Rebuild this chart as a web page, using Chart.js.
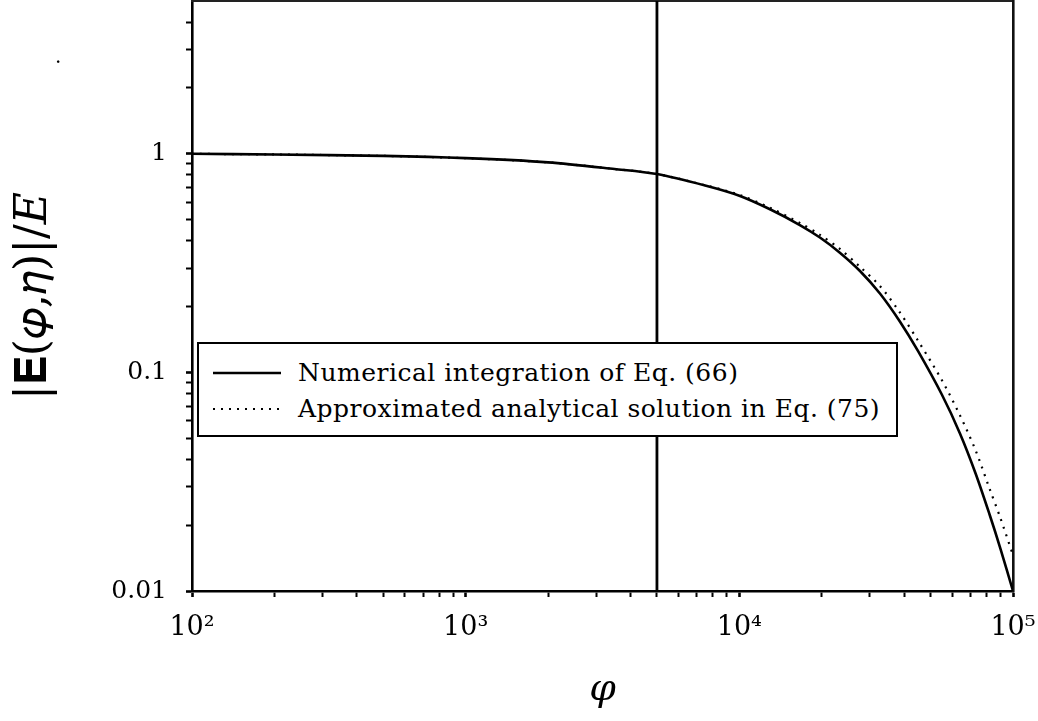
<!DOCTYPE html>
<html>
<head>
<meta charset="utf-8">
<script src="https://cdn.jsdelivr.net/npm/chart.js@4.4.1/dist/chart.umd.min.js"></script>
<style>
  html, body { margin: 0; padding: 0; background: #ffffff; }
  #wrap { position: relative; width: 1038px; height: 721px; }
  #chart { position: absolute; left: 0; top: 0; }
  #legend {
    position: absolute; left: 197px; top: 342px; width: 697px; height: 91px;
    border: 2px solid #000; background: #fff;
    font-family: 'DejaVu Serif', serif; font-size: 25px; letter-spacing: 0.5px; color: #000;
  }
  .row { position: absolute; left: 0; height: 32px; width: 100%; }
  .row svg { position: absolute; left: 14px; top: 0; }
  .row span { position: absolute; left: 99px; top: 0; line-height: 32px; white-space: nowrap; }
  #stray { position: absolute; left: 55px; top: 44px; font-family: 'DejaVu Serif', serif; font-size: 20px; color: #000; }
</style>
</head>
<body>
<div id="wrap">
  <canvas id="chart" width="1038" height="721"></canvas>
  <div id="legend"></div>
  <div id="stray">.</div>
</div>
<script>
// ---- data ----
const phiValues = [100, 200, 500, 1000, 2000, 3500, 5000, 7500, 10000, 13000, 16700, 19700,
                   23300, 27600, 32700, 38600, 45000, 55000, 64000, 73000, 82000, 90000, 100000];
const numericalValues = [1.0, 0.993, 0.978, 0.955, 0.914, 0.852, 0.808, 0.716, 0.643, 0.556, 0.471, 0.414,
                         0.353, 0.291, 0.229, 0.171, 0.125, 0.079, 0.0526, 0.0345, 0.0225, 0.0156, 0.01];
const analyticalValues = [1.0, 0.993, 0.978, 0.955, 0.914, 0.852, 0.808, 0.718, 0.649, 0.565, 0.481, 0.426,
                          0.367, 0.304, 0.248, 0.188, 0.1395, 0.092, 0.0636, 0.044, 0.0295, 0.0215, 0.0146];
const markerPhi = 5000;
const seriesLabels = ['Numerical integration of Eq. (66)', 'Approximated analytical solution in Eq. (75)'];
const xRange = [100, 100000];
const yRange = [0.01, 5];
const xMajorTicks = [100, 1000, 10000, 100000];
const xTickLabels = ['10\u00B2', '10\u00B3', '10\u2074', '10\u2075'];
const yMajorTicks = [0.01, 0.1, 1];
const yTickLabels = ['0.01', '0.1', '1'];
const xTitle = '\u03C6';
const yTitle = '|\uD835\uDC04(\uD835\uDF11,\uD835\uDF02)|/\uD835\uDC38';

function decadeTicks(lo, hi) {
  const out = [];
  for (let d = 1e-3; d <= 1e6; d *= 10) {
    for (let k = 1; k <= 9; k++) {
      const v = +(k * d).toPrecision(6);
      if (v >= lo * 0.9999 && v <= hi * 1.0001) out.push(v);
    }
  }
  return out;
}
const xAllTicks = decadeTicks(xRange[0], xRange[1]);
const yAllTicks = decadeTicks(yRange[0], 4);

function isMajor(list, v) { return list.some(m => Math.abs(m - v) / m < 1e-6); }
function labelFor(list, labels, v) {
  const i = list.findIndex(m => Math.abs(m - v) / m < 1e-6);
  return i >= 0 ? labels[i] : '';
}
function noPad(s) { s.paddingTop = 0; s.paddingBottom = 0; s.paddingLeft = 0; s.paddingRight = 0; }

const chart = new Chart(document.getElementById('chart'), {
  type: 'line',
  data: {
    datasets: [
      {
        label: seriesLabels[0],
        data: phiValues.map((p, i) => ({ x: p, y: numericalValues[i] })),
        borderColor: '#000', borderWidth: 2.6, pointRadius: 0,
        tension: 0.3, fill: false
      },
      {
        label: seriesLabels[1],
        data: phiValues.map((p, i) => ({ x: p, y: analyticalValues[i] })),
        borderColor: '#000', borderWidth: 2.2, borderDash: [2, 6], pointRadius: 0,
        tension: 0.3, fill: false
      },
      {
        label: 'marker',
        data: [{ x: markerPhi, y: yRange[0] }, { x: markerPhi, y: yRange[1] }],
        borderColor: '#000', borderWidth: 2.8, pointRadius: 0, tension: 0, fill: false
      }
    ]
  },
  options: {
    responsive: false,
    animation: false,
    devicePixelRatio: 1,
    layout: { padding: { left: 0, top: 1, right: 25, bottom: 0 } },
    plugins: { legend: { display: false }, tooltip: { enabled: false } },
    scales: {
      x: {
        type: 'logarithmic', position: 'bottom', min: xRange[0], max: xRange[1],
        afterBuildTicks: s => { s.ticks = xAllTicks.map(v => ({ value: v, major: isMajor(xMajorTicks, v) })); },
        afterFit: s => { s.height = 130; noPad(s); },
        ticks: {
          autoSkip: false, maxRotation: 0, minRotation: 0, color: '#000',
          font: { family: 'DejaVu Serif', size: 27 }, padding: 15,
          callback: v => labelFor(xMajorTicks, xTickLabels, v)
        },
        grid: { drawOnChartArea: false, drawTicks: true, tickLength: 6, tickColor: '#000',
                tickWidth: c => (c.tick && isMajor(xMajorTicks, c.tick.value)) ? 2.6 : 2 },
        border: { display: true, color: '#000', width: 2.6 },
        title: { display: true, text: xTitle, color: '#000',
                 font: { family: 'DejaVu Serif', size: 38, style: 'italic' }, padding: { top: 0, bottom: 8 } }
      },
      y: {
        type: 'logarithmic', position: 'left', min: yRange[0], max: yRange[1],
        afterBuildTicks: s => { s.ticks = yAllTicks.map(v => ({ value: v, major: isMajor(yMajorTicks, v) })); },
        afterFit: s => { s.width = 192; noPad(s); },
        ticks: {
          autoSkip: false, color: '#000', font: { family: 'DejaVu Serif', size: 25 }, padding: 19,
          callback: v => labelFor(yMajorTicks, yTickLabels, v)
        },
        grid: { drawOnChartArea: false, drawTicks: true, tickLength: 6, tickColor: '#000',
                tickWidth: c => (c.tick && isMajor(yMajorTicks, c.tick.value)) ? 2.6 : 2 },
        border: { display: true, color: '#000', width: 2.6 },
        title: { display: true, text: yTitle, color: '#000',
                 font: { family: 'DejaVu Serif', size: 44 }, padding: { top: 8, bottom: 0 } }
      },
      xTop: {
        type: 'logarithmic', position: 'top', axis: 'x', min: xRange[0], max: xRange[1],
        afterFit: s => { s.height = 0; noPad(s); },
        ticks: { display: false },
        grid: { drawOnChartArea: false, drawTicks: false },
        border: { display: true, color: '#222', width: 2 }
      },
      yRight: {
        type: 'logarithmic', position: 'right', axis: 'y', min: yRange[0], max: yRange[1],
        afterFit: s => { s.width = 0; noPad(s); },
        ticks: { display: false },
        grid: { drawOnChartArea: false, drawTicks: false },
        border: { display: true, color: '#111', width: 2.6 }
      }
    }
  }
});

// HTML legend built from the chart's own datasets
(function buildLegend() {
  const box = document.getElementById('legend');
  const tops = [13, 49];
  chart.data.datasets.slice(0, 2).forEach((ds, i) => {
    const row = document.createElement('div');
    row.className = 'row';
    row.style.top = tops[i] + 'px';
    const dash = ds.borderDash ? ds.borderDash.join(' ') : '';
    row.innerHTML =
      '<svg width="70" height="32"><line x1="0" y1="16" x2="68" y2="16" stroke="#000" stroke-width="' +
      ds.borderWidth + '"' + (ds.borderDash ? ' stroke-dasharray="' + dash + '"' : '') + '/></svg>' +
      '<span></span>';
    row.querySelector('span').textContent = ds.label;
    box.appendChild(row);
  });
})();
</script>
</body>
</html>
